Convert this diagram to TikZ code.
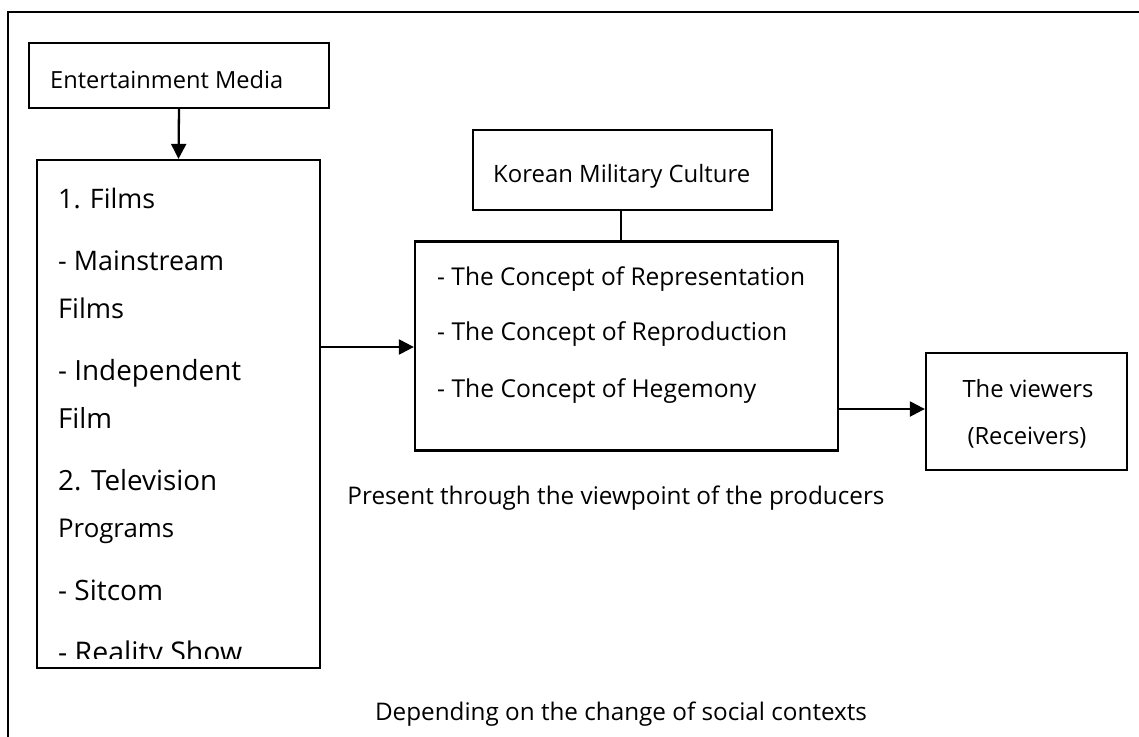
\documentclass[tikz,border=0pt]{standalone}
\usepackage{fontspec}
\usepackage{graphicx}
\setmainfont{Open Sans}
\usetikzlibrary{arrows.meta}
\newcommand{\fitw}[2]{\resizebox{#1pt}{!}{#2}}
\tikzset{
  box/.style={draw, line width=2.3pt, rectangle, inner sep=0pt},
  conn/.style={line width=2.3pt},
  arr/.style={line width=2.3pt, -{Triangle[length=15pt,width=15pt]}},
  txt/.style={anchor=base west, inner sep=0pt, font=\fontsize{20}{24}\selectfont},
  ctr/.style={anchor=base, inner sep=0pt, font=\fontsize{20}{24}\selectfont},
}
\begin{document}
\begin{tikzpicture}[x=1pt,y=-1pt]
\useasboundingbox (0,0) rectangle (1139,736);
\fill[white] (0,0) rectangle (1139,736);
% outer frame
\draw[conn] (8,740) -- (8,12) -- (1145,12);
% boxes
\node[box, minimum width=300pt, minimum height=65pt] (ent) at (179,75.5) {};
\node[box, minimum width=283pt, minimum height=508pt] (media) at (178.5,414) {};
\node[box, minimum width=299pt, minimum height=80pt] (kmc) at (622.5,170) {};
\node[box, minimum width=423pt, minimum height=209pt] (concept) at (626.5,346) {};
\node[box, minimum width=201pt, minimum height=117pt] (view) at (1026.5,411.5) {};
% texts
\node[txt] (tent) at (50,88) {\fitw{233}{Entertainment Media}};
\node[txt] (tkmc) at (493,182) {\fitw{257}{Korean Military Culture}};
\begin{scope}
\clip (39,162) rectangle (318,658);
\node[txt] (m1) at (58,208) {\fitw{97}{1. Films}};
\node[txt] (m2) at (58,270) {\fitw{166}{- Mainstream}};
\node[txt] (m3) at (58,318) {\fitw{66}{Films}};
\node[txt] (m4) at (58,380) {\fitw{183}{- Independent}};
\node[txt] (m5) at (58,428) {\fitw{54}{Film}};
\node[txt] (m6) at (58,490) {\fitw{159}{2. Television}};
\node[txt] (m7) at (58,537) {\fitw{116}{Programs}};
\node[txt] (m8) at (58,600) {\fitw{105}{- Sitcom}};
\node[txt] (m9) at (58,662) {\fitw{184}{- Reality Show}};
\end{scope}
\node[txt] (c1) at (437,285) {\fitw{368}{- The Concept of Representation}};
\node[txt] (c2) at (437,340) {\fitw{350}{- The Concept of Reproduction}};
\node[txt] (c3) at (437,397) {\fitw{319}{- The Concept of Hegemony}};
\node[ctr] (v1) at (1028,397) {\fitw{131}{The viewers}};
\node[ctr] (v2) at (1027,444) {\fitw{119}{(Receivers)}};
\node[ctr] (present) at (616,504) {\fitw{537}{Present through the viewpoint of the producers}};
\node[ctr] (depend) at (621,720) {\fitw{492}{Depending on the change of social contexts}};
% connectors
\draw[arr] (ent.south) -- (media.north);
\draw[arr] (media.east |- 0,347) -- (concept.west |- 0,347);
\draw[conn] (kmc.south -| 621,0) -- (concept.north -| 621,0);
\draw[arr] (concept.east |- 0,409) -- (view.west |- 0,409);
\end{tikzpicture}
\end{document}
